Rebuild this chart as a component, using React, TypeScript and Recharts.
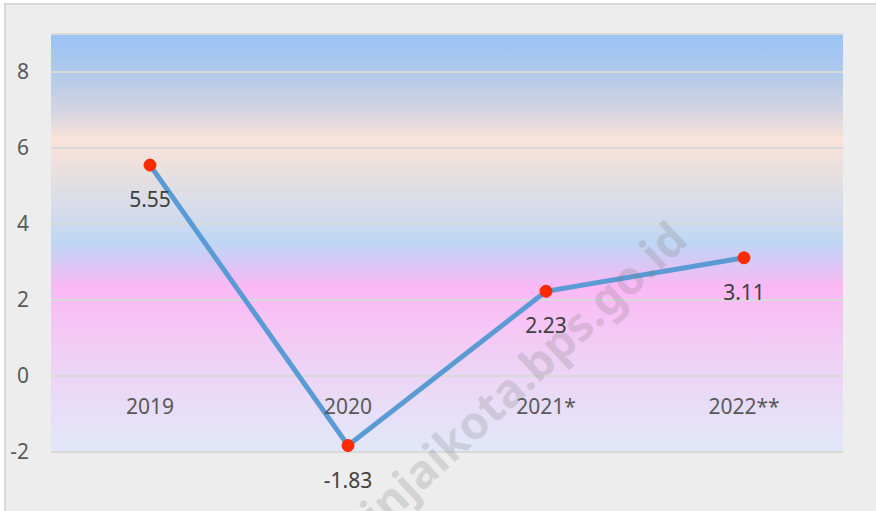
import { LineChart, Line, XAxis, YAxis, CartesianGrid, LabelList } from 'recharts'

const years = ['2019', '2020', '2021*', '2022**']
const growth = [5.55, -1.83, 2.23, 3.11]
const yTicks = [-2, 0, 2, 4, 6, 8]

const data = years.map((year, i) => ({ year, growth: growth[i] }))

const W = 876
const H = 511
const M = { top: 34, right: 33, bottom: 29, left: 0 }
const X_AXIS_H = 30
const Y_MIN = -2
const Y_MAX = 9
const plotW = W - M.left - M.right - 51
const plotH = H - M.top - M.bottom - X_AXIS_H
// categories sit in the middle of equal slots
const halfSlot = plotW / years.length / 2
// distance from the bottom edge of the plot up to the zero line
const zeroLift = (plotH * (0 - Y_MIN)) / (Y_MAX - Y_MIN)

const font = '"Noto Sans", "Open Sans", sans-serif'

function CategoryTick({ x, y, payload }: any) {
  return (
    <text
      x={x}
      y={y - zeroLift + 30}
      textAnchor="middle"
      dominantBaseline="central"
      fill="#595959"
      fontSize={21}
      fontFamily={font}
    >
      {payload.value}
    </text>
  )
}

function ValueLabel({ x, y, value }: any) {
  return (
    <text
      x={x}
      y={y + 34}
      textAnchor="middle"
      dominantBaseline="central"
      fill="#404040"
      fontSize={21}
      fontFamily={font}
    >
      {value}
    </text>
  )
}

export default function App() {
  return (
    <div
      style={{
        position: 'fixed',
        left: 0,
        top: 0,
        width: W,
        height: H,
        background: '#ffffff',
        overflow: 'hidden',
      }}
    >
      <div
        style={{
          position: 'absolute',
          left: 4,
          top: 3,
          width: W + 10,
          height: H + 10,
          background: '#ededed',
          border: '2px solid #d9d9d9',
        }}
      />
      <div style={{ position: 'absolute', left: 0, top: 0 }}>
        <LineChart width={W} height={H} data={data} margin={M}>
          <defs>
            <linearGradient id="plotBg" x1="0" y1="0" x2="0" y2="1">
              <stop offset="0" stopColor="#99c3f6" />
              <stop offset="0.091" stopColor="#b0c9ec" />
              <stop offset="0.18" stopColor="#d2d4e2" />
              <stop offset="0.254" stopColor="#fbe3d9" />
              <stop offset="0.349" stopColor="#e4dfe2" />
              <stop offset="0.433" stopColor="#d3dbeb" />
              <stop offset="0.5" stopColor="#bed6f5" />
              <stop offset="0.548" stopColor="#d8c8f5" />
              <stop offset="0.605" stopColor="#fbb8f5" />
              <stop offset="0.684" stopColor="#f6c4f5" />
              <stop offset="0.816" stopColor="#ecd5f5" />
              <stop offset="1" stopColor="#e2e8f9" />
            </linearGradient>
          </defs>
          <CartesianGrid
            vertical={false}
            stroke="#d9d9d9"
            strokeWidth={2}
            fill="url(#plotBg)"
            fillOpacity={1}
          />
          <XAxis
            dataKey="year"
            height={X_AXIS_H}
            axisLine={false}
            tickLine={false}
            tickSize={0}
            tickMargin={0}
            padding={{ left: halfSlot, right: halfSlot }}
            tick={<CategoryTick />}
            interval={0}
          />
          <YAxis
            width={51}
            domain={[Y_MIN, Y_MAX]}
            ticks={yTicks}
            axisLine={false}
            tickLine={false}
            tickSize={0}
            tickMargin={22}
            tick={{ fill: '#595959', fontSize: 21, fontFamily: font }}
          />
          <Line
            type="linear"
            dataKey="growth"
            stroke="#5b9bd5"
            strokeWidth={5}
            dot={{ r: 6, fill: '#ff2a00', stroke: '#ff2a00', strokeWidth: 1 }}
            activeDot={false}
            isAnimationActive={false}
          >
            <LabelList dataKey="growth" content={<ValueLabel />} />
          </Line>
        </LineChart>
      </div>
      <svg
        width={W}
        height={H}
        style={{ position: 'absolute', left: 0, top: 0, pointerEvents: 'none' }}
      >
        <text
          x={0}
          y={0}
          transform="translate(512 384) rotate(-43)"
          textAnchor="middle"
          dominantBaseline="central"
          fontSize={46}
          fontWeight={700}
          fontFamily={font}
          fill="rgba(120,120,120,0.22)"
        >
          binjaikota.bps.go.id
        </text>
      </svg>
    </div>
  )
}
